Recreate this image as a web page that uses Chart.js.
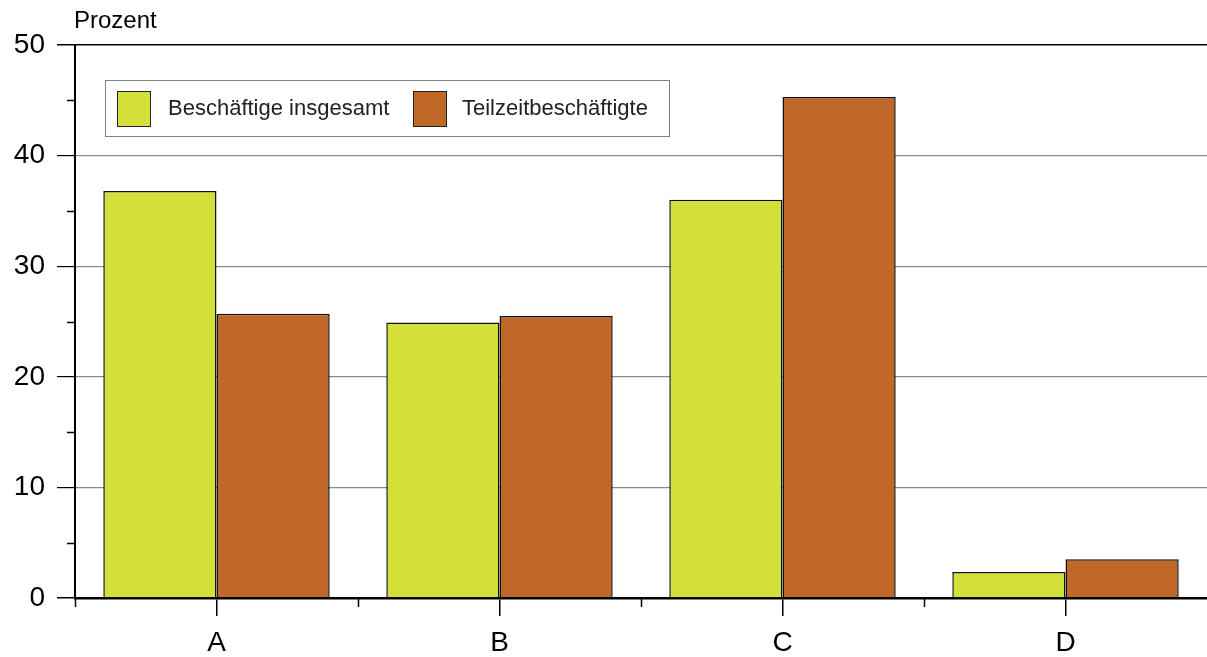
<!DOCTYPE html>
<html>
<head>
<meta charset="utf-8">
<script src="https://cdn.jsdelivr.net/npm/chart.js@4"></script>
<style>
  html, body { margin: 0; padding: 0; background: #fff; }
  #wrap { width: 1207px; height: 657px; }
</style>
</head>
<body>
<div id="wrap"><canvas id="c" width="1207" height="657"></canvas></div>
<script>
const categories = ['A', 'B', 'C', 'D'];
const beschaeftigteInsgesamt = [36.8, 24.9, 36.0, 2.35];
const teilzeitbeschaeftigte = [25.7, 25.5, 45.3, 3.5];
const seriesNames = ['Beschäftige insgesamt', 'Teilzeitbeschäftigte'];
const yTicks = [0, 10, 20, 30, 40, 50];
const yMinorTicks = [5, 15, 25, 35, 45];
const axisTitle = 'Prozent';

const FONT = '"Liberation Sans", Arial, sans-serif';
const colors = ['#d5df3a', '#c06828'];

// Minor ticks, in-between category ticks, axis caption and boxed legend
const decorations = {
  id: 'decorations',
  afterDraw(chart) {
    const ctx = chart.ctx;
    const area = chart.chartArea;
    const x = chart.scales.x, y = chart.scales.y;
    ctx.save();
    ctx.strokeStyle = '#000';
    ctx.lineWidth = 1.5;
    // minor y ticks
    yMinorTicks.forEach(v => {
      const py = Math.round(y.getPixelForValue(v)) + 0.5;
      ctx.beginPath(); ctx.moveTo(area.left - 8, py); ctx.lineTo(area.left, py); ctx.stroke();
    });
    // short ticks between categories
    const step = x.getPixelForValue(1) - x.getPixelForValue(0);
    for (let i = 0; i < categories.length; i++) {
      const px = Math.round(x.getPixelForValue(i) - step / 2) + 0.5;
      ctx.beginPath(); ctx.moveTo(px, area.bottom); ctx.lineTo(px, area.bottom + 9); ctx.stroke();
    }
    // axis caption
    ctx.fillStyle = '#000';
    ctx.font = '24px ' + FONT;
    ctx.textBaseline = 'middle';
    ctx.textAlign = 'left';
    ctx.fillText(axisTitle, 74, 21);

    // legend box
    const lx = 105, ly = 80, lw = 564, lh = 56;
    ctx.fillStyle = '#fff';
    ctx.fillRect(lx, ly, lw, lh);
    ctx.strokeStyle = '#808080';
    ctx.lineWidth = 1;
    ctx.strokeRect(lx + 0.5, ly + 0.5, lw, lh);
    ctx.font = '22px ' + FONT;
    const entries = [{ sx: 117, tx: 168 }, { sx: 413, tx: 462 }];
    chart.data.datasets.forEach((ds, i) => {
      const e = entries[i];
      ctx.fillStyle = ds.backgroundColor;
      ctx.fillRect(e.sx, 91, 33, 35);
      ctx.strokeStyle = '#222';
      ctx.lineWidth = 1;
      ctx.strokeRect(e.sx + 0.5, 91.5, 33, 35);
      ctx.fillStyle = '#222';
      ctx.fillText(ds.label, e.tx, 109);
    });
    ctx.restore();
  }
};

new Chart(document.getElementById('c'), {
  type: 'bar',
  data: {
    labels: categories,
    datasets: [
      { label: seriesNames[0], data: beschaeftigteInsgesamt, backgroundColor: colors[0], borderColor: '#111', borderWidth: 1.5 },
      { label: seriesNames[1], data: teilzeitbeschaeftigte, backgroundColor: colors[1], borderColor: '#111', borderWidth: 1.5 }
    ]
  },
  options: {
    responsive: false,
    animation: false,
    devicePixelRatio: 1,
    layout: { padding: { top: 45, right: 0, left: 0, bottom: 0 } },
    plugins: { legend: { display: false }, tooltip: { enabled: false }, title: { display: false } },
    datasets: { bar: { categoryPercentage: 0.8, barPercentage: 1.0 } },
    scales: {
      x: {
        offset: true,
        grid: { display: true, offset: false, drawOnChartArea: false, tickLength: 18, color: '#000', lineWidth: 1.5 },
        border: { display: true, color: '#000', width: 2.5 },
        ticks: { color: '#000', font: { family: FONT, size: 28 }, padding: 10, maxRotation: 0 },
        afterFit(scale) { scale.height = 59; }
      },
      y: {
        min: 0, max: 50,
        afterBuildTicks(scale) { scale.ticks = yTicks.map(v => ({ value: v })); },
        grid: {
          tickLength: 18,
          color: ctx => (ctx.tick && (ctx.tick.value === 0 || ctx.tick.value === 50)) ? '#000' : '#8a8a8a',
          tickColor: '#000',
          lineWidth: ctx => (ctx.tick && (ctx.tick.value === 0 || ctx.tick.value === 50)) ? 1.5 : 1.2
        },
        border: { display: true, color: '#000', width: 2 },
        ticks: { color: '#000', font: { family: FONT, size: 28 }, padding: 12 },
        afterFit(scale) { scale.width = 75; }
      }
    }
  },
  plugins: [decorations]
});
</script>
</body>
</html>
